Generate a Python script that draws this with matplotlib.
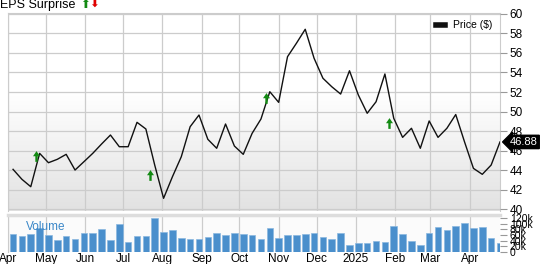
import numpy as np
import pandas as pd
import matplotlib
matplotlib.use('Agg')
import matplotlib.pyplot as plt
import matplotlib.dates as mdates
from matplotlib.colors import LinearSegmentedColormap

plt.rcParams['font.family'] = ['Liberation Sans', 'DejaVu Sans']

# weekly closing prices
weeks = pd.date_range('2024-04-05', periods=56, freq='7D')
price = [44.07, 43.05, 42.29, 45.71, 44.75, 45.10, 45.61, 44.00, 44.85, 45.71,
         46.67, 47.59, 46.39, 46.39, 48.89, 48.21, 44.51, 41.10, 43.31, 45.36,
         48.44, 49.64, 47.15, 46.23, 48.72, 46.46, 45.61, 47.76, 49.23, 52.03,
         50.94, 55.62, 56.99, 58.43, 55.46, 53.41, 52.54, 51.79, 54.18, 51.69,
         49.82, 51.00, 53.85, 49.30, 47.35, 48.28, 46.23, 49.03, 47.35, 48.28,
         49.69, 46.87, 44.17, 43.56, 44.51, 46.88]
# weekly volume, thousands
volume = [63.5, 56.5, 63.5, 83.6, 60, 41, 55, 46, 66, 67,
          82, 43.5, 98, 36.5, 56.5, 56.5, 118, 72, 76.5, 50.6,
          47, 47, 52, 66, 61, 68, 63.5, 60, 44.7, 86,
          50.6, 60, 60, 62.4, 67, 54, 46, 68, 23.5, 30.6,
          33, 37.7, 34, 93, 64.7, 38.8, 26, 67, 89.5, 79,
          93, 101, 83.6, 89.5, 50.6, 30.6]

# EPS surprise markers (all beats)
eps_dates = pd.to_datetime(['2024-04-23', '2024-07-22', '2024-10-22', '2025-01-27'])
eps_price = [45.4, 43.5, 51.4, 48.8]

last_price = price[-1]

fig = plt.figure(figsize=(5.41, 2.64), dpi=100)
W, H = 541, 264
ax = fig.add_axes([8 / W, 1 - 211 / H, 492 / W, 198 / H])
axv = fig.add_axes([8 / W, 1 - 252 / H, 492 / W, 37 / H], sharex=ax)

x0 = pd.Timestamp('2024-04-01')
x1 = pd.Timestamp('2025-04-25')

# gradient background for the price panel
grad = LinearSegmentedColormap.from_list('g', ['#e2e2e2', '#ffffff'])
g = np.linspace(0, 1, 256).reshape(-1, 1)
g = np.clip(g / 0.6, 0, 1)
ax.imshow(g, aspect='auto', cmap=grad, extent=[0, 1, 1, 0],
          transform=ax.transAxes, zorder=0)

ax.plot(weeks, price, color='#111111', lw=1.0, zorder=3, label='Price ($)')

up_arrow = [(-0.22, -1), (0.22, -1), (0.22, 0.05), (0.65, 0.05), (0, 1),
            (-0.65, 0.05), (-0.22, 0.05), (-0.22, -1)]
ax.scatter(eps_dates, eps_price, marker=up_arrow, s=60, color='#138a13',
           zorder=4, linewidths=0)

ax.set_xlim(x0, x1)
ax.set_ylim(39.8, 60.1)
ax.set_yticks(np.arange(40, 61, 2))
ax.yaxis.tick_right()
ax.tick_params(axis='y', length=5, color='#999999', labelsize=8.5, pad=2)
ax.tick_params(axis='x', length=0, labelbottom=False)
ax.grid(True, color='#cccccc', lw=0.9)
ax.set_axisbelow(False)
for s in ax.spines.values():
    s.set_visible(False)
for side in ['right', 'top', 'left']:
    ax.spines[side].set_visible(True)
    ax.spines[side].set_color('#cccccc')

leg = ax.legend(loc='upper right', frameon=False, fontsize=7.5, handlelength=0.9,
                handleheight=0.5, borderaxespad=0.3)
for h in leg.legend_handles:
    h.set_linewidth(4)

ax.annotate(f'{last_price:.2f}', xy=(1.0, last_price),
            xycoords=('axes fraction', 'data'), xytext=(7, 0),
            textcoords='offset points', va='center', ha='left',
            color='white', fontsize=8,
            bbox=dict(boxstyle='larrow,pad=0.15', fc='black', ec='black'))

fig.text(0.5 / W, 1 - 5 / H, 'EPS Surprise', fontsize=9, va='center', ha='left')
fig.text(80 / W, 1 - 5 / H, '\u2b06', color='#138a13', fontsize=8.5, va='center')
fig.text(89 / W, 1 - 5 / H, '\u2b07', color='#e00000', fontsize=8.5, va='center')

# volume panel
axv.set_facecolor('#fbfbfb')
axv.bar(weeks, volume, width=5.2, color='#4a8fcc', edgecolor='#8ab8e0',
        linewidth=0.5, zorder=3)
axv.set_ylim(0, 130)
axv.set_yticks(np.arange(0, 121, 20))
axv.set_yticklabels(['0', '20k', '40k', '60k', '80k', '100k', '120k'])
axv.yaxis.tick_right()
axv.tick_params(axis='y', length=5, color='#999999', labelsize=7.5, pad=2)
axv.grid(True, axis='x', color='#cccccc', lw=0.9)
for s in axv.spines.values():
    s.set_visible(False)
axv.spines['top'].set_visible(True)
axv.spines['top'].set_color('#dddddd')
axv.spines['top'].set_linewidth(2.5)
axv.spines['left'].set_visible(True)
axv.spines['left'].set_color('#cccccc')
axv.text(18 / 492, 0.68, 'Volume', transform=axv.transAxes, color='#3a87c8',
         fontsize=8.5, va='center')


def month_label(v, pos):
    d = mdates.num2date(v)
    return d.strftime('%Y') if d.month == 1 else d.strftime('%b')


axv.xaxis.set_major_locator(mdates.MonthLocator())
axv.xaxis.set_major_formatter(plt.FuncFormatter(month_label))
axv.tick_params(axis='x', length=0, labelsize=8.5, pad=1)
axv.set_xlim(x0, x1)

fig.savefig('out.png', dpi=100)
